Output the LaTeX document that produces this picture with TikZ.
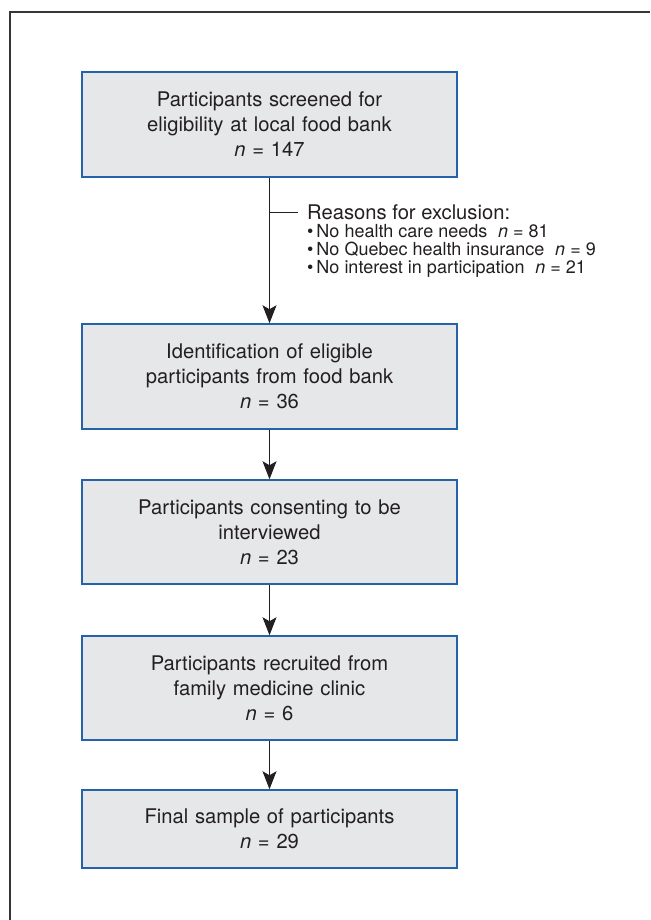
\documentclass[tikz,border=0pt]{standalone}
\usepackage{fontspec}
\setmainfont{TeX Gyre Heros}
\usepackage{tikz}
\usetikzlibrary{positioning,arrows.meta}
\usepackage{xcolor}
\definecolor{boxblue}{RGB}{38,98,168}
\definecolor{boxgray}{RGB}{230,231,232}
\definecolor{ink}{RGB}{35,31,32}

\begin{document}
\begin{tikzpicture}[x=1pt,y=-1pt,>={Stealth[length=18pt,width=14pt,inset=4pt]},
  stage/.style={draw=boxblue,fill=boxgray,line width=1.5pt,minimum width=375pt,
    text width=360pt,align=center,text=ink,font=\fontsize{20.2}{25}\selectfont},
  flow/.style={->,draw=ink,line width=1pt}]
\useasboundingbox (0,0) rectangle (650,920);
\draw[line width=1.5pt,draw=ink!90] (10,920) -- (10,12) -- (650,12);
\node[stage,minimum height=105pt] (b1) at (269.5,124.5) {Participants screened for\\eligibility at local food bank\\\textit{n} = 147};
\node[stage,minimum height=105pt] (b2) at (269.5,376.5) {Identification of eligible\\participants from food bank\\\textit{n} = 36};
\node[stage,minimum height=104pt] (b3) at (269.5,532) {Participants consenting to be\\interviewed\\\textit{n} = 23};
\node[stage,minimum height=104pt] (b4) at (269.5,688) {Participants recruited from\\family medicine clinic\\\textit{n} = 6};
\node[stage,minimum height=78pt] (b5) at (269.5,829) {Final sample of participants\\\textit{n} = 29};
\node[anchor=west,inner xsep=9pt,inner ysep=0pt,text=ink,font=\fontsize{20.2}{22}\selectfont] (why) at (298,212) {Reasons for exclusion:};
\node[anchor=north west,inner sep=0pt,align=left,text=ink,font=\fontsize{18}{18}\selectfont] (items) at (307,224.5) {\textbullet\,No health care needs\hskip0.6em\textit{n} = 81\\\textbullet\,No Quebec health insurance\hskip0.6em\textit{n} = 9\\\textbullet\,No interest in participation\hskip0.6em\textit{n} = 21};
\coordinate (split) at (b1.south |- why.west);
\draw[flow] (b1) -- (b2);
\draw[draw=ink,line width=1pt] (split) -- (why);
\draw[flow] (b2) -- (b3);
\draw[flow] (b3) -- (b4);
\draw[flow] (b4) -- (b5);
\end{tikzpicture}
\end{document}
